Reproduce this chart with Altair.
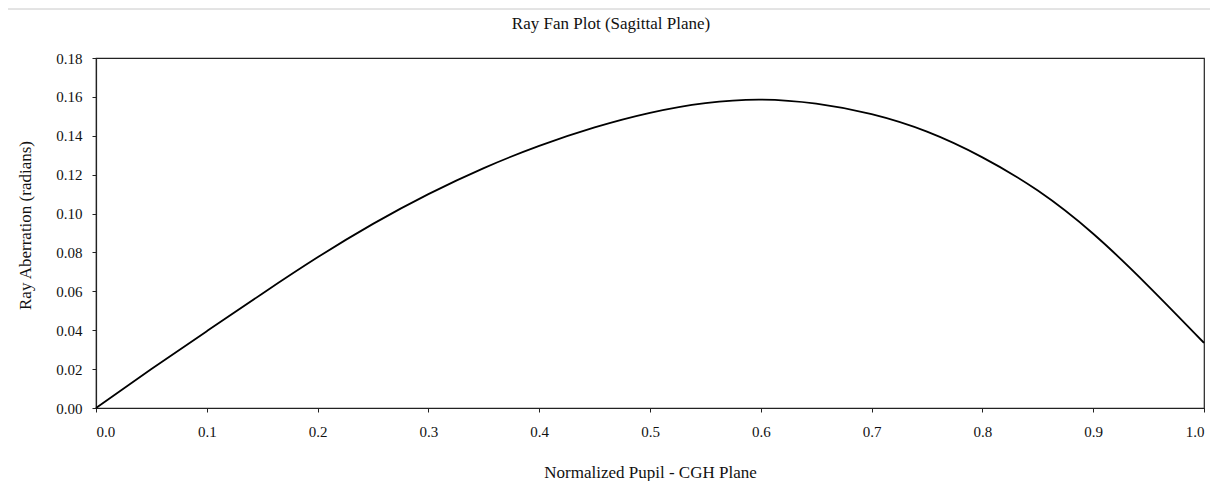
import altair as alt
import pandas as pd

pupil = [0.0, 0.05, 0.1, 0.15, 0.2, 0.25, 0.3, 0.35, 0.4, 0.45, 0.5,
         0.55, 0.6, 0.65, 0.7, 0.75, 0.8, 0.85, 0.9, 0.95, 1.0]
aberration = [0.0, 0.0200, 0.0395, 0.0588, 0.0775, 0.0947, 0.1100, 0.1234,
              0.1348, 0.1443, 0.1518, 0.1568, 0.1586, 0.1565, 0.1511, 0.1421,
              0.1289, 0.1118, 0.0896, 0.0626, 0.0335]

x_ticks = [0.0, 0.1, 0.2, 0.3, 0.4, 0.5, 0.6, 0.7, 0.8, 0.9, 1.0]
y_ticks = [0.0, 0.02, 0.04, 0.06, 0.08, 0.10, 0.12, 0.14, 0.16, 0.18]

title_text = "Ray Fan Plot (Sagittal Plane)"
x_title = "Normalized Pupil - CGH Plane"
y_title = "Ray Aberration (radians)"

FONT = "Liberation Serif"

df = pd.DataFrame({"x": pupil, "y": aberration})

line = alt.Chart(df).mark_line(color="black", strokeWidth=1.8, interpolate="natural").encode(
    x=alt.X("x:Q", scale=alt.Scale(domain=[0, 1], nice=False),
            axis=alt.Axis(values=x_ticks, format=".1f", title=x_title,
                          titleX=554, titleY=69, titleBaseline="alphabetic",
                          titleAlign="center")),
    y=alt.Y("y:Q", scale=alt.Scale(domain=[0, 0.18], nice=False),
            axis=alt.Axis(values=y_ticks, format=".2f", title=y_title,
                          titleX=-71, titleY=167, titleBaseline="middle",
                          titleAlign="center")),
)

border = alt.Chart(alt.Data(values=[{}])).mark_rect(
    fill=None, stroke="#c8c8c8", strokeWidth=1
).encode(
    x=alt.value(-89), x2=alt.value(1120), y=alt.value(-49), y2=alt.value(430)
)

title = alt.Chart(alt.Data(values=[{"t": title_text}])).mark_text(
    font=FONT, fontSize=17, color="#111", align="center", baseline="alphabetic"
).encode(
    x=alt.value(515), y=alt.value(-29), text="t:N"
)

chart = alt.layer(border, line, title).properties(
    width=1108, height=350,
    padding={"left": 88, "top": 50, "right": 6, "bottom": 73},
    autosize=alt.AutoSizeParams(type="none"),
    background="white",
).configure_view(
    stroke="#222", strokeWidth=1.2
).configure_axis(
    grid=False, domainColor="#222", domainWidth=1.2, tickColor="#222",
    tickSize=4, labelFont=FONT, labelFontSize=15, labelColor="#111",
    titleFont=FONT, titleFontSize=17, titleFontWeight="normal", titleColor="#111",
).configure_axisX(
    labelPadding=12
).configure_axisY(
    labelPadding=10
)

chart.save("out.html", embed_options={"renderer": "svg", "actions": False})
